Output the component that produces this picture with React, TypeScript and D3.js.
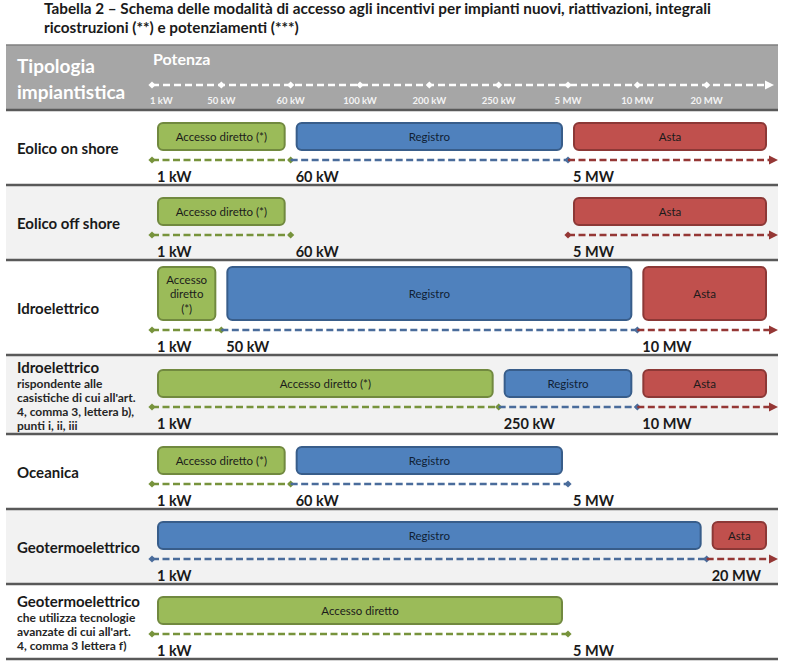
import React from "react";
import * as d3 from "d3";

// ---------- data ----------
const TITLE_LINES = [
  "Tabella 2 – Schema delle modalità di accesso agli incentivi per impianti nuovi, riattivazioni, integrali",
  "ricostruzioni (**) e potenziamenti (***)",
];
const HEADER_LEFT = ["Tipologia", "impiantistica"];
const HEADER_AXIS = "Potenza";
const THRESHOLDS = ["1 kW", "50 kW", "60 kW", "100 kW", "200 kW", "250 kW", "5 MW", "10 MW", "20 MW"];
const OPEN_END = "∞";

const ROW_TITLES = [
  "Eolico on shore",
  "Eolico off shore",
  "Idroelettrico",
  "Idroelettrico",
  "Oceanica",
  "Geotermoelettrico",
  "Geotermoelettrico",
];
const ROW_NOTES: string[][] = [
  [],
  [],
  [],
  ["rispondente alle", "casistiche di cui all'art.", "4, comma 3, lettera b),", "punti i, ii, iii"],
  [],
  [],
  ["che utilizza tecnologie", "avanzate di cui all'art.", "4, comma 3 lettera f)"],
];
// [mode, from, to (null = open), label]
type Seg = [string, string, string | null, string];
const EOLICO_ON: Seg[] = [
  ["diretto", "1 kW", "60 kW", "Accesso diretto (*)"],
  ["registro", "60 kW", "5 MW", "Registro"],
  ["asta", "5 MW", null, "Asta"],
];
const EOLICO_OFF: Seg[] = [
  ["diretto", "1 kW", "60 kW", "Accesso diretto (*)"],
  ["asta", "5 MW", null, "Asta"],
];
const IDRO: Seg[] = [
  ["diretto", "1 kW", "50 kW", "Accesso diretto (*)"],
  ["registro", "50 kW", "10 MW", "Registro"],
  ["asta", "10 MW", null, "Asta"],
];
const IDRO_B: Seg[] = [
  ["diretto", "1 kW", "250 kW", "Accesso diretto (*)"],
  ["registro", "250 kW", "10 MW", "Registro"],
  ["asta", "10 MW", null, "Asta"],
];
const OCEANICA: Seg[] = [
  ["diretto", "1 kW", "60 kW", "Accesso diretto (*)"],
  ["registro", "60 kW", "5 MW", "Registro"],
];
const GEO: Seg[] = [
  ["registro", "1 kW", "20 MW", "Registro"],
  ["asta", "20 MW", null, "Asta"],
];
const GEO_F: Seg[] = [["diretto", "1 kW", "5 MW", "Accesso diretto"]];
const ROW_SEGMENTS = [EOLICO_ON, EOLICO_OFF, IDRO, IDRO_B, OCEANICA, GEO, GEO_F];

// ---------- styles ----------
const FONT = "Lato, 'Open Sans', sans-serif";
const MODE_STYLE: Record<string, { fill: string; stroke: string; line: string; text: string }> = {
  diretto: { fill: "#9bbb59", stroke: "#71893f", line: "#77933c", text: "#1b1b1b" },
  registro: { fill: "#4f81bd", stroke: "#385d8a", line: "#4a6c9b", text: "#0f1f35" },
  asta: { fill: "#c0504d", stroke: "#8c3836", line: "#953735", text: "#1b1b1b" },
};

const W = 794;
const H = 665;
const LEFT = 6;
const RIGHT = 778;
const HEADER_TOP = 45;
const HEADER_BOTTOM = 110;
const BAR_FONT = 11.5;

function Diamond({ x, y, color, r = 3.6 }: { x: number; y: number; color: string; r?: number }) {
  return <path d={`M${x - r},${y} L${x},${y - r} L${x + r},${y} L${x},${y + r} Z`} fill={color} />;
}
function Arrow({ x, y, color }: { x: number; y: number; color: string }) {
  return <path d={`M${x - 9},${y - 4.5} L${x},${y} L${x - 9},${y + 4.5} Z`} fill={color} />;
}

export default function App() {
  const x = d3
    .scalePoint<string>()
    .domain([...THRESHOLDS, OPEN_END])
    .range([152, 776]);
  const pos = (v: string | null) => x(v === null ? OPEN_END : v) as number;

  // compute row layouts
  let y = HEADER_BOTTOM;
  const rows = ROW_TITLES.map((title, i) => {
    const segs = ROW_SEGMENTS[i];
    const wraps = segs.map((s) => {
      const w = pos(s[2]) - pos(s[1]) - 12;
      return w < s[3].length * BAR_FONT * 0.45 + 8;
    });
    const tall = wraps.some(Boolean);
    const barH = tall ? 53 : 27;
    const padTop = tall ? 7 : 13;
    const contentH = padTop + barH + 10 + 25;
    const notes = ROW_NOTES[i];
    const noteH = notes.length ? 19 + 15 * notes.length : 0;
    const h = Math.max(contentH, noteH);
    const off = (h - contentH) / 2;
    const top = y;
    y += h;
    const barTop = top + padTop + off;
    const lineY = barTop + barH + 10;
    return { title, notes, segs, wraps, top, h, barTop, barH, lineY, labelY: lineY + 16 };
  });

  return (
    <svg
      width={W}
      height={H}
      style={{ position: "absolute", left: 0, top: 0, background: "#fff" }}
      fontFamily={FONT}
    >
      {/* title */}
      {TITLE_LINES.map((t, i) => (
        <text key={i} x={44} y={13.5 + i * 19} fontSize={15.3} fontWeight={700} fill="#1a1a1a">
          {t}
        </text>
      ))}

      {/* header */}
      <rect x={LEFT} y={HEADER_TOP} width={RIGHT - LEFT} height={HEADER_BOTTOM - HEADER_TOP} fill="#a6a6a6" />
      <line x1={LEFT} x2={RIGHT} y1={HEADER_TOP} y2={HEADER_TOP} stroke="#7f7f7f" strokeWidth={1.5} />
      {HEADER_LEFT.map((t, i) => (
        <text key={i} x={17} y={65 + i * 26} fontSize={19} fontWeight={700} fill="#ffffff" dominantBaseline="central">
          {t}
        </text>
      ))}
      <text x={153} y={58} fontSize={16} fontWeight={700} fill="#ffffff" dominantBaseline="central">
        {HEADER_AXIS}
      </text>
      <line
        x1={pos(THRESHOLDS[0])}
        x2={pos(null) - 8}
        y1={85}
        y2={85}
        stroke="#ffffff"
        strokeWidth={2.5}
        strokeDasharray="7 4"
      />
      <Arrow x={pos(null) - 2} y={85} color="#ffffff" />
      {THRESHOLDS.map((t, i) => (
        <g key={t}>
          <Diamond x={pos(t)} y={85} color="#ffffff" />
          <text
            x={i === 0 ? pos(t) - 2 : pos(t)}
            y={100}
            fontSize={9.5}
            fontWeight={700}
            fill="#f4f4f4"
            textAnchor={i === 0 ? "start" : "middle"}
            dominantBaseline="central"
          >
            {t}
          </text>
        </g>
      ))}

      {/* rows */}
      {rows.map((r, i) => {
        const labels: string[] = [];
        r.segs.forEach((s) => {
          if (!labels.includes(s[1])) labels.push(s[1]);
          if (s[2] !== null && !labels.includes(s[2])) labels.push(s[2]);
        });
        const cy = r.top + r.h / 2;
        const span = 16 + 14 * (r.notes.length - 1);
        const titleY = r.notes.length ? cy + 1.5 - span / 2 : cy;
        return (
          <g key={i}>
            <rect x={LEFT} y={r.top} width={RIGHT - LEFT} height={r.h} fill={i % 2 === 1 ? "#f2f2f2" : "#ffffff"} />
            <text x={17} y={titleY} fontSize={15} fontWeight={700} fill="#1a1a1a" dominantBaseline="central">
              {r.title}
            </text>
            {r.notes.map((n, j) => (
              <text
                key={j}
                x={17}
                y={titleY + 16 + j * 14}
                fontSize={12}
                fontWeight={700}
                fill="#262626"
                dominantBaseline="central"
              >
                {n}
              </text>
            ))}
            {r.segs.map((s, j) => {
              const st = MODE_STYLE[s[0]];
              const x0 = pos(s[1]);
              const x1 = pos(s[2]);
              const bx0 = x0 + 6;
              const bx1 = s[2] === null ? x1 - 10 : x1 - 6;
              const lines = r.wraps[j] ? s[3].split(" ") : [s[3]];
              const bcy = r.barTop + r.barH / 2;
              return (
                <g key={j}>
                  <rect
                    x={bx0}
                    y={r.barTop}
                    width={bx1 - bx0}
                    height={r.barH}
                    rx={5}
                    fill={st.fill}
                    stroke={st.stroke}
                    strokeWidth={2}
                  />
                  {lines.map((l, k) => (
                    <text
                      key={k}
                      x={(bx0 + bx1) / 2}
                      y={bcy + (k - (lines.length - 1) / 2) * 14.5}
                      fontSize={BAR_FONT}
                      fill={st.text}
                      textAnchor="middle"
                      dominantBaseline="central"
                    >
                      {l}
                    </text>
                  ))}
                </g>
              );
            })}
            {r.segs.map((s, j) => {
              const st = MODE_STYLE[s[0]];
              const x0 = pos(s[1]);
              const x1 = pos(s[2]);
              const prev = j > 0 ? r.segs[j - 1] : null;
              const startMarker = !prev || prev[2] !== s[1];
              return (
                <g key={"l" + j}>
                  <line
                    x1={x0}
                    x2={s[2] === null ? x1 - 6 : x1}
                    y1={r.lineY}
                    y2={r.lineY}
                    stroke={st.line}
                    strokeWidth={2.5}
                    strokeDasharray="7 3.5"
                  />
                  {startMarker && <Diamond x={x0} y={r.lineY} color={st.line} />}
                  {s[2] === null ? (
                    <Arrow x={x1 + 2} y={r.lineY} color={st.line} />
                  ) : (
                    <Diamond x={x1} y={r.lineY} color={st.line} />
                  )}
                </g>
              );
            })}
            {labels.map((l) => (
              <text
                key={l}
                x={pos(l) + 5}
                y={r.labelY}
                fontSize={14.5}
                fontWeight={700}
                fill="#1a1a1a"
                dominantBaseline="central"
              >
                {l}
              </text>
            ))}
          </g>
        );
      })}

      {/* separators */}
      {[HEADER_BOTTOM, ...rows.map((r) => r.top + r.h)].map((yy, i) => (
        <line key={i} x1={LEFT} x2={RIGHT} y1={yy} y2={yy} stroke="#595959" strokeWidth={2.5} />
      ))}
    </svg>
  );
}
